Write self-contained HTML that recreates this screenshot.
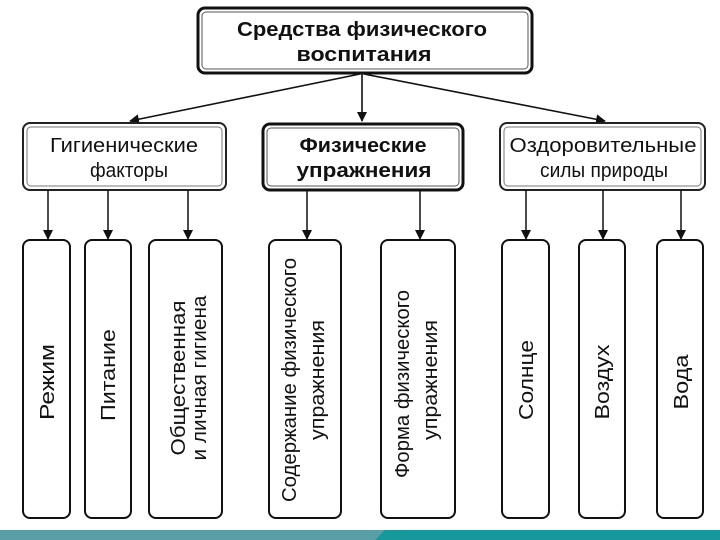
<!DOCTYPE html>
<html><head><meta charset="utf-8"><style>
html,body{margin:0;padding:0;background:#fff;}
svg{display:block}
text{font-family:"Liberation Sans","DejaVu Sans",sans-serif;fill:#111;}
</style></head><body>
<svg width="720" height="540" viewBox="0 0 720 540" xmlns="http://www.w3.org/2000/svg">
<defs><marker id="a" markerWidth="10" markerHeight="10" refX="9" refY="5" orient="auto" markerUnits="userSpaceOnUse"><path d="M0,0 L10,5 L0,10 z" fill="#111"/></marker></defs>
<rect width="720" height="540" fill="#fff"/>
<rect x="198" y="8" width="334" height="65" rx="7" fill="#fff" stroke="#111" stroke-width="3"/>
<rect x="202" y="12" width="326" height="57" rx="4" fill="none" stroke="#555" stroke-width="1"/>
<text x="362" y="36" text-anchor="middle" font-size="20" font-weight="bold" textLength="250" lengthAdjust="spacingAndGlyphs">Средства физического</text>
<text x="364" y="61" text-anchor="middle" font-size="20" font-weight="bold" textLength="135" lengthAdjust="spacingAndGlyphs">воспитания</text>
<g stroke="#111" stroke-width="1.6" fill="none" marker-end="url(#a)">
<line x1="362" y1="74" x2="362" y2="121"/>
<line x1="360" y1="74" x2="130" y2="121"/>
<line x1="364" y1="74" x2="605" y2="121"/>
</g>
<rect x="23" y="123" width="203" height="67" rx="7" fill="#fff" stroke="#222" stroke-width="2"/>
<rect x="27" y="127" width="195" height="59" rx="4" fill="none" stroke="#777" stroke-width="1"/>
<text x="124" y="152" text-anchor="middle" font-size="20" textLength="148" lengthAdjust="spacingAndGlyphs">Гигиенические</text>
<text x="129" y="177" text-anchor="middle" font-size="20" textLength="78" lengthAdjust="spacingAndGlyphs">факторы</text>
<rect x="263" y="124" width="200" height="66" rx="7" fill="#fff" stroke="#111" stroke-width="3"/>
<rect x="267" y="128" width="192" height="58" rx="4" fill="none" stroke="#555" stroke-width="1"/>
<text x="363" y="152" text-anchor="middle" font-size="20" font-weight="bold" textLength="127" lengthAdjust="spacingAndGlyphs">Физические</text>
<text x="364" y="177" text-anchor="middle" font-size="20" font-weight="bold" textLength="135" lengthAdjust="spacingAndGlyphs">упражнения</text>
<rect x="500" y="123" width="205" height="67" rx="7" fill="#fff" stroke="#222" stroke-width="2"/>
<rect x="504" y="127" width="197" height="59" rx="4" fill="none" stroke="#777" stroke-width="1"/>
<text x="603" y="152" text-anchor="middle" font-size="20" textLength="187" lengthAdjust="spacingAndGlyphs">Оздоровительные</text>
<text x="604" y="177" text-anchor="middle" font-size="20" textLength="128" lengthAdjust="spacingAndGlyphs">силы природы</text>
<g stroke="#111" stroke-width="1.5" fill="none" marker-end="url(#a)">
<line x1="48" y1="190" x2="48" y2="239"/>
<line x1="108" y1="190" x2="108" y2="239"/>
<line x1="188" y1="190" x2="188" y2="239"/>
<line x1="307" y1="191" x2="307" y2="239"/>
<line x1="420" y1="191" x2="420" y2="239"/>
<line x1="526" y1="190" x2="526" y2="239"/>
<line x1="603" y1="190" x2="603" y2="239"/>
<line x1="681" y1="190" x2="681" y2="239"/>
</g>
<g fill="#fff" stroke="#111" stroke-width="2">
<rect x="23" y="240" width="47" height="278" rx="7"/>
<rect x="85" y="240" width="46" height="278" rx="7"/>
<rect x="149" y="240" width="73" height="278" rx="7"/>
<rect x="269" y="240" width="72" height="278" rx="7"/>
<rect x="381" y="240" width="74" height="278" rx="7"/>
<rect x="502" y="240" width="47" height="278" rx="7"/>
<rect x="579" y="240" width="46" height="278" rx="7"/>
<rect x="657" y="240" width="46" height="278" rx="7"/>
</g>
<g font-size="20">
<text transform="translate(54,382) rotate(-90)" text-anchor="middle" textLength="76" lengthAdjust="spacingAndGlyphs">Режим</text>
<text transform="translate(115,375) rotate(-90)" text-anchor="middle" textLength="92" lengthAdjust="spacingAndGlyphs">Питание</text>
<text transform="translate(185,378) rotate(-90)" text-anchor="middle" textLength="155" lengthAdjust="spacingAndGlyphs">Общественная</text>
<text transform="translate(206,378) rotate(-90)" text-anchor="middle" textLength="165" lengthAdjust="spacingAndGlyphs">и личная гигиена</text>
<text transform="translate(296,380) rotate(-90)" text-anchor="middle" textLength="244" lengthAdjust="spacingAndGlyphs">Содержание физического</text>
<text transform="translate(324,380) rotate(-90)" text-anchor="middle" textLength="120" lengthAdjust="spacingAndGlyphs">упражнения</text>
<text transform="translate(409,384) rotate(-90)" text-anchor="middle" textLength="188" lengthAdjust="spacingAndGlyphs">Форма физического</text>
<text transform="translate(437,380) rotate(-90)" text-anchor="middle" textLength="120" lengthAdjust="spacingAndGlyphs">упражнения</text>
<text transform="translate(533,380) rotate(-90)" text-anchor="middle" textLength="80" lengthAdjust="spacingAndGlyphs">Солнце</text>
<text transform="translate(609,382) rotate(-90)" text-anchor="middle" textLength="75" lengthAdjust="spacingAndGlyphs">Воздух</text>
<text transform="translate(688,382) rotate(-90)" text-anchor="middle" textLength="55" lengthAdjust="spacingAndGlyphs">Вода</text>
</g>
<rect x="0" y="530" width="720" height="10" fill="#5a9ea6"/>
<polygon points="375,540 385,530 720,530 720,540" fill="#17989a"/>
</svg>
</body></html>
